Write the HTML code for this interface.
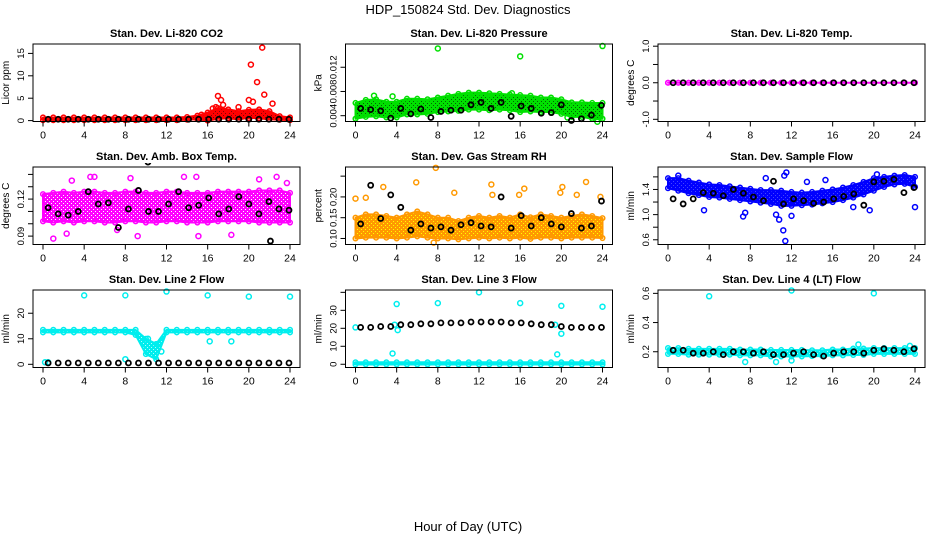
<!DOCTYPE html>
<html><head><meta charset="utf-8">
<style>
html,body{margin:0;padding:0;background:#fff;}
svg{display:block;font-family:"Liberation Sans",Arial,sans-serif;}
</style></head>
<body>
<svg id="chart" width="936" height="540" viewBox="0 0 936 540" xmlns="http://www.w3.org/2000/svg">
<defs id="defs"></defs>
<text x="468" y="14" font-size="13" text-anchor="middle">HDP_150824  Std. Dev. Diagnostics</text>
<text x="468" y="531" font-size="13" text-anchor="middle">Hour of Day (UTC)</text>
</svg>
<script>
// ---------- data ----------
const hours = [0,1,2,3,4,5,6,7,8,9,10,11,12,13,14,15,16,17,18,19,20,21,22,23,24];
const xTicks = [0,4,8,12,16,20,24];

const co2Mid = [0.4,0.4,0.4,0.4,0.4,0.4,0.4,0.4,0.4,0.4,0.4,0.4,0.4,0.4,0.5,0.7,0.9,1.6,1.5,1.2,1.5,1.5,1.2,0.6,0.4];
const co2Spread = [0.3,0.3,0.3,0.3,0.3,0.3,0.3,0.3,0.3,0.3,0.3,0.3,0.3,0.3,0.3,0.4,0.9,1.2,1.0,0.9,0.9,1.0,0.9,0.4,0.3];
const co2OutX = [16.5,16.8,17,17.3,17.5,19,20,20.2,20.4,20.8,21.3,21.5,22.3,15.4];
const co2OutY = [2.7,3,5.5,4.6,3.5,3,4.6,12.5,4.2,8.6,16.3,5.8,3.8,1.3];
const co2Black = [0.3,0.3,0.3,0.3,0.3,0.3,0.3,0.3,0.3,0.3,0.3,0.3,0.3,0.3,0.3,0.3,0.3,0.3,0.3,0.3,0.3,0.3,0.3,0.3,0.3];

const presMid = [0.0048,0.0052,0.0053,0.005,0.005,0.0055,0.0055,0.0055,0.0058,0.006,0.0062,0.0064,0.0064,0.0063,0.0063,0.0062,0.006,0.006,0.0058,0.0058,0.0055,0.005,0.005,0.0048,0.0048];
const presSpread = [0.0013,0.0014,0.0014,0.0013,0.0013,0.0013,0.0013,0.0012,0.0012,0.0013,0.0014,0.0014,0.0014,0.0014,0.0013,0.0013,0.0014,0.0013,0.0012,0.0012,0.0012,0.0012,0.0012,0.0013,0.0013];
const presOutX = [8,16,24,23.5,20.6,3.6,15.2,1.8,11,13];
const presOutY = [0.0151,0.0138,0.0155,0.003,0.0037,0.0072,0.0077,0.0073,0.0073,0.0073];
const presBlack = [0.0052,0.005,0.0048,0.0036,0.0052,0.0043,0.0051,0.0037,0.0047,0.0049,0.0049,0.0058,0.0062,0.0052,0.0062,0.0039,0.0056,0.0052,0.0044,0.0045,0.0058,0.0032,0.0035,0.0041,0.0057];

const tempMid = [0,0,0,0,0,0,0,0,0,0,0,0,0,0,0,0,0,0,0,0,0,0,0,0,0];
const tempSpread = [0,0,0,0,0,0,0,0,0,0,0,0,0,0,0,0,0,0,0,0,0,0,0,0,0];
const tempOutX = [];
const tempOutY = [];
const tempBlack = [0,0,0,0,0,0,0,0,0,0,0,0,0,0,0,0,0,0,0,0,0,0,0,0,0];

const ambMid = [0.113,0.113,0.114,0.113,0.114,0.114,0.113,0.113,0.114,0.114,0.113,0.113,0.114,0.114,0.113,0.113,0.113,0.114,0.114,0.114,0.114,0.114,0.114,0.114,0.113];
const ambSpread = [0.011,0.012,0.012,0.012,0.012,0.012,0.012,0.012,0.012,0.012,0.012,0.012,0.012,0.012,0.012,0.012,0.012,0.012,0.012,0.012,0.012,0.013,0.013,0.013,0.012];
const ambOutX = [1,2.8,4.6,5,8.5,13.7,14.9,22.7,23.7,15.1,2.3,9.2,18.3,7.2,21];
const ambOutY = [0.088,0.135,0.138,0.138,0.137,0.138,0.138,0.138,0.133,0.09,0.092,0.09,0.091,0.095,0.136];
const ambBlack = [0.113,0.108,0.107,0.11,0.126,0.116,0.117,0.097,0.112,0.127,0.11,0.11,0.116,0.126,0.113,0.115,0.121,0.108,0.112,0.122,0.116,0.108,0.118,0.112,0.111];
const ambBlackOutX = [10.2,22.1];
const ambBlackOutY = [0.15,0.086];

const rhMid = [0.125,0.13,0.13,0.128,0.125,0.13,0.135,0.13,0.125,0.125,0.12,0.125,0.128,0.125,0.128,0.125,0.13,0.125,0.13,0.128,0.125,0.128,0.13,0.128,0.125];
const rhSpread = [0.025,0.028,0.028,0.026,0.025,0.028,0.03,0.028,0.025,0.025,0.022,0.025,0.026,0.025,0.026,0.025,0.028,0.026,0.028,0.026,0.025,0.026,0.028,0.026,0.024];
const rhOutX = [0,1,2.7,5.9,7.8,7.6,9.6,13.2,13.3,15.9,16.4,19.9,20.1,21.5,22.4,23.8];
const rhOutY = [0.196,0.198,0.224,0.235,0.27,0.09,0.21,0.23,0.205,0.205,0.22,0.21,0.224,0.205,0.236,0.2];
const rhBlack = [0.135,0.228,0.148,0.205,0.175,0.12,0.135,0.125,0.128,0.12,0.133,0.138,0.13,0.128,0.2,0.125,0.155,0.13,0.15,0.135,0.128,0.16,0.125,0.13,0.19];

const flowMid = [1.5,1.48,1.44,1.41,1.38,1.37,1.35,1.33,1.31,1.29,1.28,1.26,1.25,1.25,1.26,1.28,1.3,1.33,1.37,1.42,1.48,1.52,1.55,1.56,1.52];
const flowSpread = [0.08,0.1,0.1,0.1,0.1,0.1,0.1,0.1,0.1,0.1,0.11,0.12,0.11,0.1,0.1,0.1,0.1,0.1,0.1,0.1,0.1,0.08,0.07,0.07,0.08];
const flowOutX = [1,3.5,7.3,7.5,10.5,10.8,11.2,11.4,11.3,11.5,12,9.5,13.5,18,19.6,24,20.3,15.3];
const flowOutY = [1.62,1.07,0.97,1.03,1.0,0.92,0.75,0.58,1.62,1.67,0.98,1.58,1.52,1.12,1.07,1.12,1.64,1.55];
const flowBlack = [1.25,1.17,1.25,1.35,1.34,1.3,1.4,1.34,1.28,1.22,1.53,1.17,1.25,1.22,1.18,1.2,1.25,1.29,1.33,1.15,1.52,1.53,1.56,1.35,1.43];

const l2Mid = [13,13,13,13,13,13,13,13,13,12.5,7,5,13,13,13,13,13,13,13,13,13,13,13,13,13];
const l2Spread = [0.5,0.5,0.5,0.5,0.5,0.5,0.5,0.5,0.5,1,3,3,0.5,0.5,0.5,0.5,0.5,0.5,0.5,0.5,0.5,0.5,0.5,0.5,0.5];
const l2OutX = [4,8,12,16,20,24,16.2,18.3,8,0.2,0.5,11.5,10.2];
const l2OutY = [27,27,28.5,27,26.5,26.5,9,9,2,0.8,0.8,5,10];
const l2Black = [0.5,0.5,0.5,0.5,0.5,0.5,0.5,0.5,0.5,0.5,0.5,0.5,0.5,0.5,0.5,0.5,0.5,0.5,0.5,0.5,0.5,0.5,0.5,0.5,0.5];

const l3Mid = [0.5,0.5,0.5,0.5,0.5,0.5,0.5,0.5,0.5,0.5,0.5,0.5,0.5,0.5,0.5,0.5,0.5,0.5,0.5,0.5,0.5,0.5,0.5,0.5,0.5];
const l3Spread = [0.6,0.6,0.6,0.6,0.6,0.6,0.6,0.6,0.6,0.6,0.6,0.6,0.6,0.6,0.6,0.6,0.6,0.6,0.6,0.6,0.6,0.6,0.6,0.6,0.6];
const l3OutX = [4,8,12,16,20,24,3.6,19.6,4.1,20,0,3.8,19.4];
const l3OutY = [33.5,34,40,34,32.5,32,6,5.5,19,17,20.5,22,22];
const l3Black = [20.5,20.5,21,21,22,22,22.5,22.5,23,23,23,23.5,23.5,23.5,23.5,23,23,22.5,22,22,21,20.5,20.5,20.5,20.5];

const l4Mid = [0.205,0.205,0.2,0.2,0.2,0.2,0.2,0.195,0.195,0.195,0.19,0.19,0.19,0.19,0.19,0.19,0.195,0.195,0.2,0.2,0.205,0.205,0.205,0.205,0.205];
const l4Spread = [0.02,0.02,0.02,0.02,0.02,0.02,0.02,0.02,0.02,0.02,0.022,0.022,0.022,0.022,0.02,0.02,0.02,0.02,0.022,0.022,0.02,0.02,0.02,0.02,0.02];
const l4OutX = [4,12,20,18.5,10.5,12,7.5,23.5];
const l4OutY = [0.58,0.62,0.6,0.25,0.13,0.14,0.13,0.24];
const l4Black = [0.21,0.21,0.19,0.19,0.2,0.18,0.2,0.2,0.19,0.2,0.18,0.18,0.19,0.2,0.18,0.17,0.19,0.2,0.2,0.19,0.21,0.22,0.21,0.2,0.22];

// ---------- layout / panels ----------
const panels = [
 {name:'co2',title:'Stan. Dev. Li-820 CO2',ylab:'Licor ppm',col:0,row:0,ymin:-0.2,ymax:17.1,ticks:[0,5,10,15],labels:['0','5','10','15'],color:'#ff0000',speck:'#880000',mid:co2Mid,spread:co2Spread,ox:co2OutX,oy:co2OutY,black:co2Black},
 {name:'pressure',title:'Stan. Dev. Li-820 Pressure',ylab:'kPa',col:1,row:0,ymin:0.00304,ymax:0.01584,ticks:[0.004,0.008,0.012],labels:['0.004','0.008','0.012'],color:'#00e000',speck:'#006600',mid:presMid,spread:presSpread,ox:presOutX,oy:presOutY,black:presBlack},
 {name:'temp',title:'Stan. Dev. Li-820 Temp.',ylab:'degrees C',col:2,row:0,ymin:-1.06,ymax:1.06,ticks:[-1,-0.5,0,0.5,1],labels:['-1.0','','0.0','','1.0'],color:'#ff00ff',speck:'#ff00ff',mid:tempMid,spread:tempSpread,ox:tempOutX,oy:tempOutY,black:tempBlack},
 {name:'amb-temp',title:'Stan. Dev. Amb. Box Temp.',ylab:'degrees C',col:0,row:1,ymin:0.0832,ymax:0.146,ticks:[0.09,0.1,0.11,0.12,0.13,0.14],labels:['0.09','','','0.12','',''],color:'#ff00ff',speck:'#ffffff',mid:ambMid,spread:ambSpread,ox:ambOutX,oy:ambOutY,black:ambBlack},
 {name:'rh',title:'Stan. Dev. Gas Stream RH',ylab:'percent',col:1,row:1,ymin:0.0855,ymax:0.272,ticks:[0.1,0.15,0.2,0.25],labels:['0.10','0.15','0.20',''],color:'#ff9900',speck:'#ffff00',mid:rhMid,spread:rhSpread,ox:rhOutX,oy:rhOutY,black:rhBlack},
 {name:'sample-flow',title:'Stan. Dev. Sample Flow',ylab:'ml/min',col:2,row:1,ymin:0.525,ymax:1.757,ticks:[0.6,0.8,1.0,1.2,1.4,1.6],labels:['0.6','','1.0','','1.4',''],color:'#0000ff',speck:'#4444ff',mid:flowMid,spread:flowSpread,ox:flowOutX,oy:flowOutY,black:flowBlack},
 {name:'line2',title:'Stan. Dev. Line 2 Flow',ylab:'ml/min',col:0,row:2,ymin:-1.25,ymax:29.1,ticks:[0,10,20],labels:['0','10','20'],color:'#00eeee',speck:'#aaffff',mid:l2Mid,spread:l2Spread,ox:l2OutX,oy:l2OutY,black:l2Black},
 {name:'line3',title:'Stan. Dev. Line 3 Flow',ylab:'ml/min',col:1,row:2,ymin:-1.8,ymax:41.3,ticks:[0,10,20,30,40],labels:['0','10','20','30',''],color:'#00eeee',speck:'#00eeee',mid:l3Mid,spread:l3Spread,ox:l3OutX,oy:l3OutY,black:l3Black},
 {name:'line4',title:'Stan. Dev. Line 4 (LT) Flow',ylab:'ml/min',col:2,row:2,ymin:0.092,ymax:0.623,ticks:[0.2,0.4,0.6],labels:['0.2','0.4','0.6'],color:'#00eeee',speck:'#aaffff',mid:l4Mid,spread:l4Spread,ox:l4OutX,oy:l4OutY,black:l4Black}
];

const NS='http://www.w3.org/2000/svg';
const svg=document.getElementById('chart');
const defs=document.getElementById('defs');
function mk(tag,attrs,parent){const e=document.createElementNS(NS,tag);for(const k in attrs)e.setAttribute(k,attrs[k]);(parent||svg).appendChild(e);return e;}

panels.forEach(p=>{
  const L=33+312.5*p.col, T=44+123*p.row, W=267, H=77.5;
  const xs=h=>L+10+h*(247/24);
  const ys=v=>T+H-(v-p.ymin)/(p.ymax-p.ymin)*H;
  const g=mk('g',{});
  
  
  const clipId='clip-'+p.name;
  const cp=mk('clipPath',{id:clipId},g);
  mk('rect',{x:L,y:T-4,width:W,height:H+8},cp);
  const patId='pat-'+p.name;
  const pat=mk('pattern',{id:patId,width:4,height:4,patternUnits:'userSpaceOnUse'},defs);
  mk('rect',{x:0,y:0,width:4,height:4,fill:p.color},pat);
  mk('rect',{x:1,y:1,width:1,height:1,fill:p.speck},pat);
  mk('rect',{x:3,y:3,width:1,height:1,fill:p.speck},pat);
  // title
  const t=mk('text',{x:L+W/2,y:T-7,'font-size':11,'font-weight':'bold','text-anchor':'middle'},g);
  t.textContent=p.title;
  
  
  // y label
  const yl=mk('text',{transform:`translate(${L-24},${T+H/2}) rotate(-90)`,'font-size':10,'text-anchor':'middle'},g);
  yl.textContent=p.ylab;
  
  
  // data layer
  const d=mk('g',{'clip-path':`url(#${clipId})`},g);
  
  
  // band
  let pts=[];
  hours.forEach((h,i)=>pts.push(xs(h)+','+ys(p.mid[i]+p.spread[i])));
  for(let i=hours.length-1;i>=0;i--)pts.push(xs(hours[i])+','+ys(p.mid[i]-p.spread[i]));
  const band=mk('polygon',{points:pts.join(' '),fill:`url(#${patId})`,stroke:p.color,'stroke-width':2,'stroke-linejoin':'round'},d);
  
  
  // colored points at mid and edges
  hours.forEach((h,i)=>{
    [p.mid[i]+p.spread[i],p.mid[i]-p.spread[i]].forEach(v=>{
      const c=mk('circle',{cx:xs(h),cy:ys(v),r:2.3,fill:'none',stroke:p.color,'stroke-width':1.5},d);
      
      
    });
  });
  p.ox.forEach((x,i)=>{
    const c=mk('circle',{cx:xs(x),cy:ys(p.oy[i]),r:2.5,fill:'none',stroke:p.color,'stroke-width':1.5},d);
    
    
  });
  // black points (hourly means)
  p.black.forEach((v,i)=>{
    const x=0.5+i*0.975;
    const c=mk('circle',{cx:xs(x),cy:ys(v),r:2.5,fill:'none',stroke:'#000','stroke-width':1.8},d);
    
    
  });
  if(p.name==='amb-temp'){
    ambBlackOutX.forEach((x,i)=>{
      const c=mk('circle',{cx:xs(x),cy:ys(ambBlackOutY[i]),r:2.5,fill:'none',stroke:'#000','stroke-width':1.8},d);
      
      
    });
  }
  // box
  const box=mk('rect',{x:L,y:T,width:W,height:H,fill:'none',stroke:'#000','stroke-width':1},g);
  
  
  // x axis
  const xa=mk('g',{},g);
  
  
  mk('line',{x1:xs(0),x2:xs(24),y1:T+H,y2:T+H,stroke:'#000'},xa);
  xTicks.forEach(v=>{
    mk('line',{x1:xs(v),x2:xs(v),y1:T+H,y2:T+H+5,stroke:'#000'},xa);
    const tl=mk('text',{x:xs(v),y:T+H+17,'font-size':10.5,'text-anchor':'middle'},xa);
    tl.textContent=v;
    
    
  });
  // y axis
  const ya=mk('g',{},g);
  
  
  p.ticks.forEach((v,i)=>{
    mk('line',{x1:L-5,x2:L,y1:ys(v),y2:ys(v),stroke:'#000'},ya);
    if(p.labels[i]){
      const tl=mk('text',{transform:`translate(${L-9},${ys(v)}) rotate(-90)`,'font-size':9.5,'text-anchor':'middle'},ya);
      tl.textContent=p.labels[i];
      
      
    }
  });
});
</script>
</body></html>
